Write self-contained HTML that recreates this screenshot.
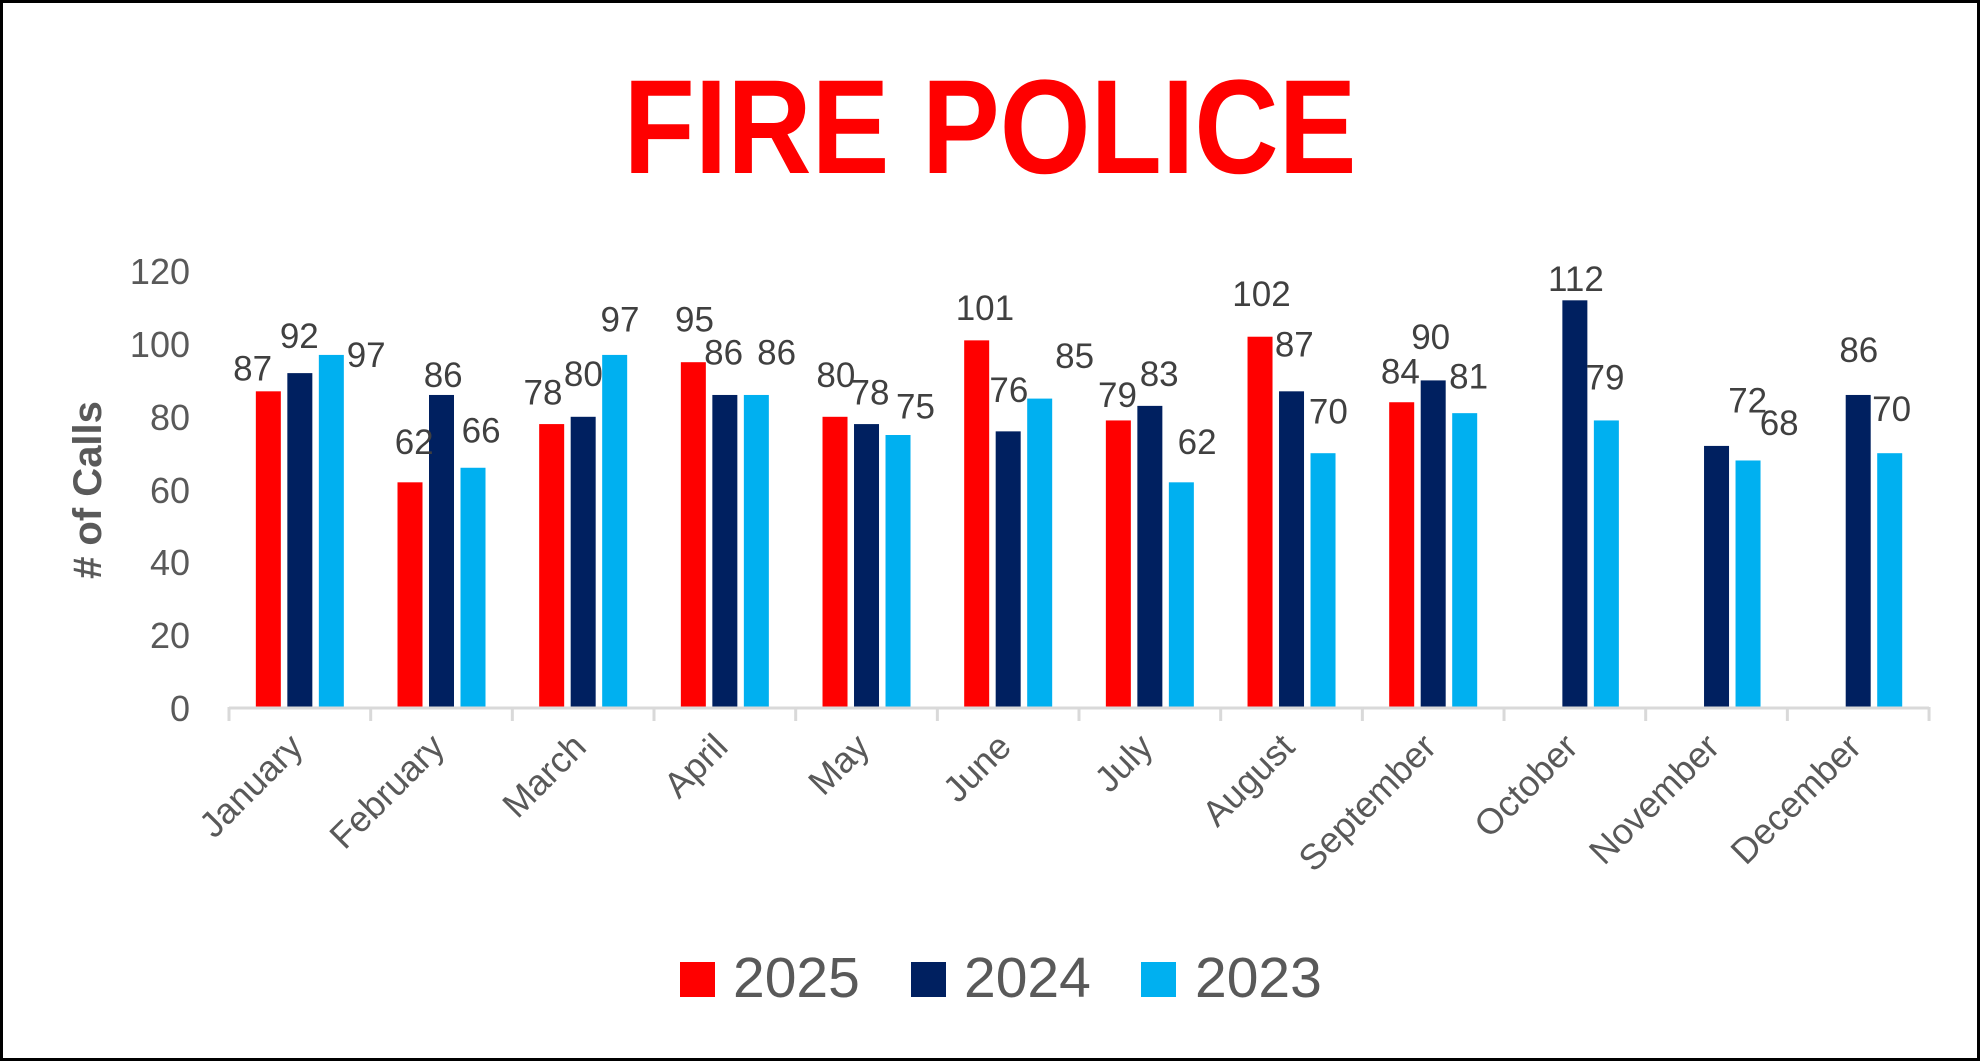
<!DOCTYPE html>
<html><head><meta charset="utf-8"><style>
html,body{margin:0;padding:0;background:#fff;}
svg{display:block;}
</style></head><body>
<svg width="1980" height="1061" viewBox="0 0 1980 1061" xmlns="http://www.w3.org/2000/svg" font-family="Liberation Sans, sans-serif">
<rect x="1.5" y="1.5" width="1977" height="1058" fill="#fff" stroke="#000" stroke-width="3"/>
<text x="990" y="173" font-size="134" font-weight="bold" fill="#ff0000" text-anchor="middle" textLength="733" lengthAdjust="spacingAndGlyphs">FIRE POLICE</text>
<g font-size="36" fill="#595959" text-anchor="end">
<text x="190" y="721">0</text>
<text x="190" y="648">20</text>
<text x="190" y="575">40</text>
<text x="190" y="503">60</text>
<text x="190" y="430">80</text>
<text x="190" y="357">100</text>
<text x="190" y="284">120</text>
</g>
<text transform="translate(101,490) rotate(-90)" font-size="40" font-weight="bold" fill="#595959" text-anchor="middle"># of Calls</text>
<g id="bars"></g>
<line x1="229" y1="708" x2="1929" y2="708" stroke="#d9d9d9" stroke-width="3"/>
<g id="ticks" stroke="#d9d9d9" stroke-width="3"></g>
<g id="labels" font-size="35" fill="#404040" text-anchor="middle"></g>
<g id="xl" font-size="36" fill="#595959" text-anchor="end"></g>
<rect x="680" y="962" width="35" height="35" fill="#ff0000"/>
<text x="733" y="997" font-size="57" fill="#595959">2025</text>
<rect x="911" y="962" width="35" height="35" fill="#002060"/>
<text x="964" y="997" font-size="57" fill="#595959">2024</text>
<rect x="1141" y="962" width="35" height="35" fill="#00b0f0"/>
<text x="1195" y="997" font-size="57" fill="#595959">2023</text>
<script>
var ns="http://www.w3.org/2000/svg";
var months=["January","February","March","April","May","June","July","August","September","October","November","December"];
var d25=[87,62,78,95,80,101,79,102,84,null,null,null];
var d24=[92,86,80,86,78,76,83,87,90,112,72,86];
var d23=[97,66,97,86,75,85,62,70,81,79,68,70];
var x0=229,cw=141.67,base=708,k=3.64;
function el(t,a,p,txt){var e=document.createElementNS(ns,t);for(var i in a)e.setAttribute(i,a[i]);if(txt!=null)e.textContent=txt;document.getElementById(p).appendChild(e);}
for(var i=0;i<12;i++){
 var c=x0+cw*(i+0.5);
 var s=[[d25[i],"#ff0000",c-44],[d24[i],"#002060",c-12.5],[d23[i],"#00b0f0",c+19]];
 s.forEach(function(b){if(b[0]!=null){var h=b[0]*k;el("rect",{x:b[2],y:base-h,width:25,height:h,fill:b[1]},"bars");}});
 el("text",{transform:"translate("+(c+5)+",749) rotate(-45)"},"xl",months[i]);
}
for(var i=0;i<=12;i++){var x=x0+cw*i;el("line",{x1:x,y1:707,x2:x,y2:721},"ticks");}
var L=[[200,292,87],[237,266,92],[290,281,97],[328,350,62],[351,297,86],[381,341,66],[430,311,78],[462,296,80],[491,253,97],[550,253,95],[573,279,86],[615,279,86],[662,297,80],[689,311,78],[725,322,75],[780,244,101],[799,309,76],[851,282,85],[885,313,79],[918,296,83],[948,350,62],[999,233,102],[1025,273,87],[1052,326,70],[1109,294,84],[1133,267,90],[1163,298,81],[1248,221,112],[1271,299,79],[1384,317,72],[1409,335,68],[1472,277,86],[1498,324,70]];
var f=1980/1568;
L.forEach(function(l){el("text",{x:(l[0]*f).toFixed(1),y:(l[1]*f+12).toFixed(1)},"labels",l[2]);});
</script>
</svg>
</body></html>
